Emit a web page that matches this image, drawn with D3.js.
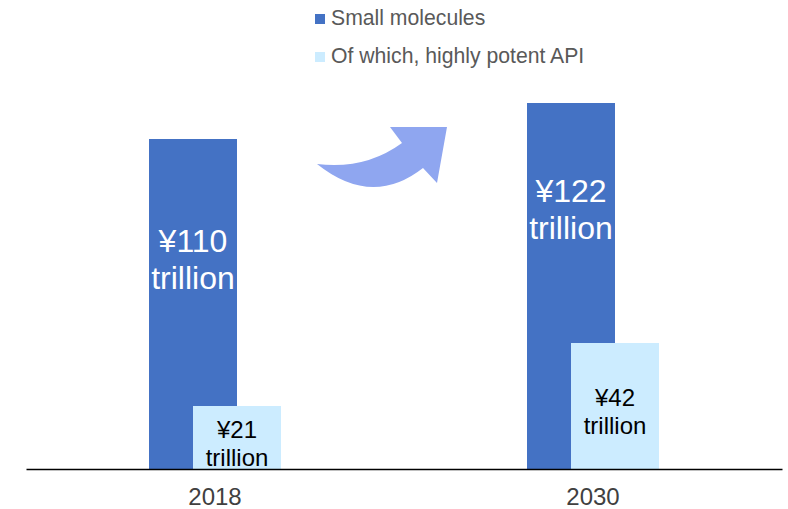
<!DOCTYPE html>
<html>
<head>
<meta charset="utf-8">
<script src="https://cdn.jsdelivr.net/npm/d3@7"></script>
<style>
  body { margin: 0; background: #fff; }
  svg text { font-family: "Liberation Sans", Arial, sans-serif; }
</style>
</head>
<body>
<div id="chart"></div>
<script>
// data
var years = ["2018", "2030"];
var seriesNames = ["Small molecules", "Of which, highly potent API"];
var smallMolecules = [110, 122];
var highlyPotent = [21, 42];
var valueLabels = [["¥110", "¥122"], ["¥21", "¥42"]];

var colors = ["#4472C4", "#CCECFF"];

var W = 788, H = 509;
var margin = {top: 19, right: 6, bottom: 40, left: 26};
var baseY = H - margin.bottom;

var svg = d3.select("#chart").append("svg")
    .attr("width", W)
    .attr("height", H);

var x = d3.scaleBand().domain(years).range([margin.left, W - margin.right]);
var y = d3.scaleLinear().domain([0, 150]).range([baseY, baseY - 450]);

var barW = 88, shift = 44;

/* dark bars (back), light bars in front shifted right */
var series = [smallMolecules, highlyPotent];
series.forEach(function (vals, s) {
    svg.append("g").selectAll("rect")
        .data(vals)
        .enter().append("rect")
        .attr("x", function (d, i) { return x(years[i]) + x.bandwidth() / 2 - (barW + shift) / 2 + s * shift; })
        .attr("y", function (d) { return y(d); })
        .attr("width", barW)
        .attr("height", function (d) { return baseY - y(d); })
        .style("fill", colors[s]);
});

// labels on dark bars: around the middle of the part above the light bar
smallMolecules.forEach(function (d, i) {
    var cx = x(years[i]) + x.bandwidth() / 2 - shift / 2;
    var mid = (y(d) + y(highlyPotent[i])) / 2;
    var t = svg.append("text")
        .attr("text-anchor", "middle")
        .style("fill", "#fff")
        .style("font-size", "32px");
    t.append("tspan").attr("x", cx).attr("y", mid - 21).text(valueLabels[0][i]);
    t.append("tspan").attr("x", cx).attr("y", mid + 16).text("trillion");
});

highlyPotent.forEach(function (d, i) {
    var cx = x(years[i]) + x.bandwidth() / 2 + shift / 2;
    var mid = (y(d) + baseY) / 2;
    var t = svg.append("text")
        .attr("text-anchor", "middle")
        .style("fill", "#000")
        .style("font-size", "24px");
    t.append("tspan").attr("x", cx).attr("y", mid).text(valueLabels[1][i]);
    t.append("tspan").attr("x", cx).attr("y", mid + 28).text("trillion");
});

// baseline axis
var xAxis = d3.axisBottom(x).tickSize(0).tickPadding(19);
var ax = svg.append("g")
    .attr("transform", "translate(0," + baseY + ")")
    .call(xAxis);
ax.select(".domain").attr("stroke", "#000").attr("stroke-width", 1.3);
ax.selectAll("text")
    .style("font-size", "24px")
    .style("fill", "#404040")
    .style("font-family", "'Liberation Sans', Arial, sans-serif");

// legend
var legend = svg.append("g").attr("transform", "translate(315,0)");
seriesNames.forEach(function (name, i) {
    legend.append("rect")
        .attr("x", 0).attr("y", 14 + i * 38)
        .attr("width", 10).attr("height", 10)
        .style("fill", colors[i]);
    legend.append("text")
        .attr("x", 16).attr("y", 25 + i * 38)
        .style("font-size", "21.2px")
        .style("fill", "#595959")
        .text(name);
});

// growth arrow
svg.append("path")
    .attr("d", "M317,164 Q365,170 402,143 L390,127 L447,127 L437,183 L423,168 Q372,208 317,164 Z")
    .style("fill", "#8FA6F0");
</script>
</body>
</html>
